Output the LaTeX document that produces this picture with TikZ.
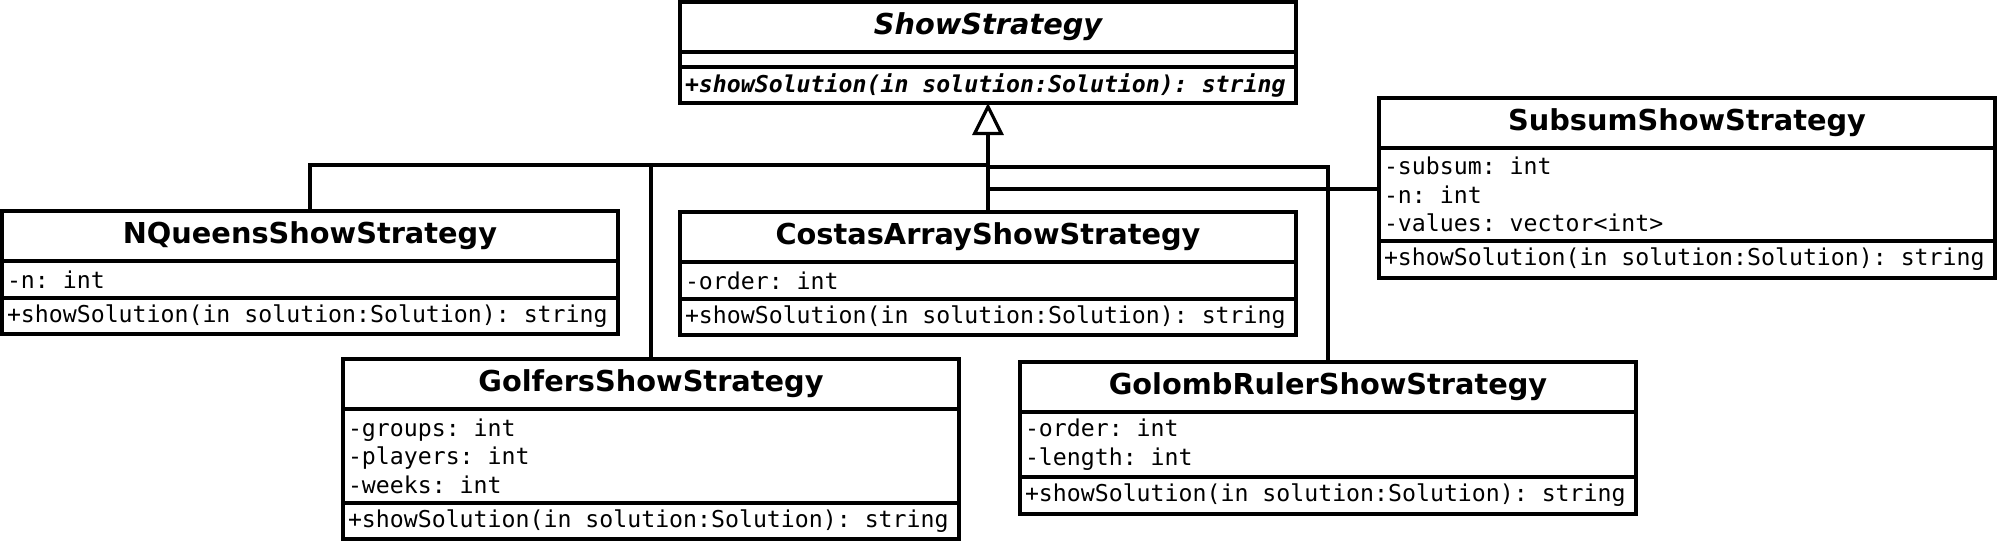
\documentclass[tikz,border=0pt]{standalone}
\usepackage{fontspec}
\setsansfont{DejaVu Sans}
\setmonofont{DejaVu Sans Mono}[WordSpace={1,0,0}]
\usetikzlibrary{positioning,arrows.meta}

\tikzset{
  umlbox/.style={draw, line width=1.6pt, outer sep=0pt, inner xsep=2.5pt, inner ysep=0pt,
    text width=303pt, minimum height=#1},
  classname/.style={umlbox=25pt, align=center, font=\sffamily\bfseries\fontsize{14.4}{17}\selectfont},
  members/.style={umlbox=#1, align=left, font=\ttfamily\fontsize{11.6}{14.25}\selectfont,
    execute at begin node={\frenchspacing\spaceskip=0pt\xspaceskip=0pt}},
  emptybox/.style={draw, line width=1.6pt, outer sep=0pt, inner sep=0pt,
    minimum width=308pt, minimum height=#1},
  inherit/.style={-{Triangle[open,length=16pt,width=15.5pt]}, line width=1.6pt},
  link/.style={line width=1.6pt}
}

\begin{document}
\begin{tikzpicture}[x=0.5pt,y=-0.5pt]
         \useasboundingbox (0,0) rectangle (2001,541);

         \node[classname,anchor=north west] at (680,2) (show) {\itshape ShowStrategy};
         \node[emptybox=7.5pt,below=0pt of show] (show-attr) {};
         \node[members=18pt,below=0pt of show-attr] (show-ops)
            {\bfseries\itshape +showSolution(in solution:Solution): string};

         \node[classname,anchor=north west] at (2,211) (nqueens) {NQueensShowStrategy};
         \node[members=18.5pt,below=0pt of nqueens] (nqueens-attr) {-n: int};
         \node[members=18pt,below=0pt of nqueens-attr] (nqueens-ops)
            {+showSolution(in solution:Solution): string};

         \node[classname,anchor=north west] at (680,212) (costas) {CostasArrayShowStrategy};
         \node[members=18.5pt,below=0pt of costas] (costas-attr) {-order: int};
         \node[members=18pt,below=0pt of costas-attr] (costas-ops)
            {+showSolution(in solution:Solution): string};

         \node[classname,anchor=north west] at (1379,98) (subsum) {SubsumShowStrategy};
         \node[members=46.5pt,below=0pt of subsum] (subsum-attr)
            {-subsum: int\\-n: int\\-values: vector<int>};
         \node[members=18.5pt,below=0pt of subsum-attr] (subsum-ops)
            {+showSolution(in solution:Solution): string};

         \node[classname,anchor=north west] at (343,359) (golfers) {GolfersShowStrategy};
         \node[members=47pt,below=0pt of golfers] (golfers-attr)
            {-groups: int\\-players: int\\-weeks: int};
         \node[members=18pt,below=0pt of golfers-attr] (golfers-ops)
            {+showSolution(in solution:Solution): string};

         \node[classname,anchor=north west] at (1020,362) (golomb) {GolombRulerShowStrategy};
         \node[members=32.5pt,below=0pt of golomb] (golomb-attr) {-order: int\\-length: int};
         \node[members=18.5pt,below=0pt of golomb-attr] (golomb-ops)
            {+showSolution(in solution:Solution): string};

         \coordinate (bus) at (989,165);
         \coordinate (bus2) at (989,167);
         \coordinate (bus3) at (989,189);

         \draw[inherit] (costas.north) -- (show-ops.south);
         \draw[link] (nqueens.north) |- (bus);
         \draw[link] (golfers.north) |- (bus);
         \draw[link] (golomb.north) |- (bus2);
         \draw[link] (bus3) -- (bus3 -| subsum-attr.west);
      \end{tikzpicture}
\end{document}
